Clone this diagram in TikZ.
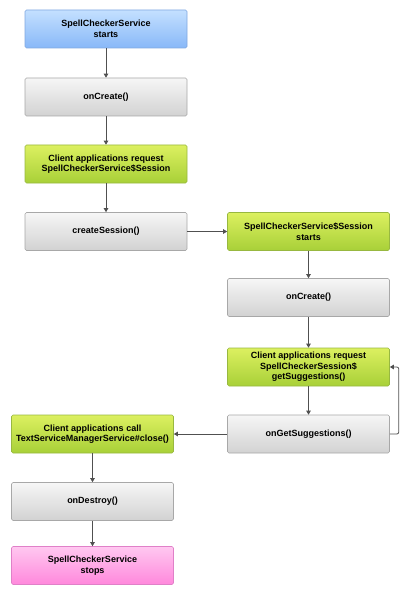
\documentclass[tikz,border=0pt]{standalone}
\usepackage{fontspec}
\setmainfont{Liberation Sans}
\usetikzlibrary{arrows.meta}
\definecolor{bluetop}{HTML}{C4E0FF}
\definecolor{bluebot}{HTML}{88B8F8}
\definecolor{blueline}{HTML}{80A8E0}
\definecolor{graytop}{HTML}{F6F6F6}
\definecolor{graybot}{HTML}{D2D2D2}
\definecolor{grayline}{HTML}{A8A8A8}
\definecolor{greentop}{HTML}{DCF060}
\definecolor{greenbot}{HTML}{A8D038}
\definecolor{greenline}{HTML}{98B840}
\definecolor{pinktop}{HTML}{FFC8F0}
\definecolor{pinkbot}{HTML}{FF88DC}
\definecolor{pinkline}{HTML}{E080C8}
\definecolor{arrowgray}{HTML}{505050}
\tikzset{
  box/.style={minimum width=162pt, minimum height=38pt, rounded corners=1.5pt,
    align=center, font=\fontsize{9}{10.5}\selectfont\bfseries, inner sep=1pt, line width=0.6pt},
  startbox/.style={box, draw=blueline, top color=bluetop, bottom color=bluebot},
  callbox/.style={box, draw=grayline, top color=graytop, bottom color=graybot},
  clientbox/.style={box, draw=greenline, top color=greentop, bottom color=greenbot},
  stopbox/.style={box, draw=pinkline, top color=pinktop, bottom color=pinkbot},
  flow/.style={draw=arrowgray, line width=0.8pt, -{Triangle[length=4pt,width=4.5pt]}}
}
\begin{document}
\begin{tikzpicture}[x=1pt, y=-1pt]
	\useasboundingbox (0,0) rectangle (407,596);

	\node(start)[startbox] at (106,29){SpellCheckerService\\starts};
	\node(create)[callbox] at (106,97){onCreate()};
	\node(request)[clientbox] at (106,164){Client applications request\\SpellCheckerService\$Session};
	\node(session)[callbox] at (106,231.5){createSession()};

	\node(sstart)[clientbox] at (308.5,231.5){SpellCheckerService\$Session\\starts};
	\node(screate)[callbox] at (308.5,297.5){onCreate()};
	\node(sugreq)[clientbox] at (308.5,367){Client applications request\\SpellCheckerSession\$\\getSuggestions()};
	\node(sug)[callbox] at (308.5,434){onGetSuggestions()};

	\node(close)[clientbox] at (92.5,434){Client applications call\\TextServiceManagerService\#close()};
	\node(destroy)[callbox] at (92.5,501.5){onDestroy()};
	\node(stop)[stopbox] at (92.5,565.5){SpellCheckerService\\stops};

	\draw[flow] (start) -- (create);
	\draw[flow] (create) -- (request);
	\draw[flow] (request) -- (session);
	\draw[flow] (session) -- (sstart);
	\draw[flow] (sstart) -- (screate);
	\draw[flow] (screate) -- (sugreq);
	\draw[flow] (sugreq) -- (sug);
	\draw[flow, rounded corners=2pt] (sug.east) -- ++(9,0) |- (sugreq.east);
	\draw[flow] (sug) -- (close);
	\draw[flow] (close) -- (destroy);
	\draw[flow] (destroy) -- (stop);
\end{tikzpicture}
\end{document}
